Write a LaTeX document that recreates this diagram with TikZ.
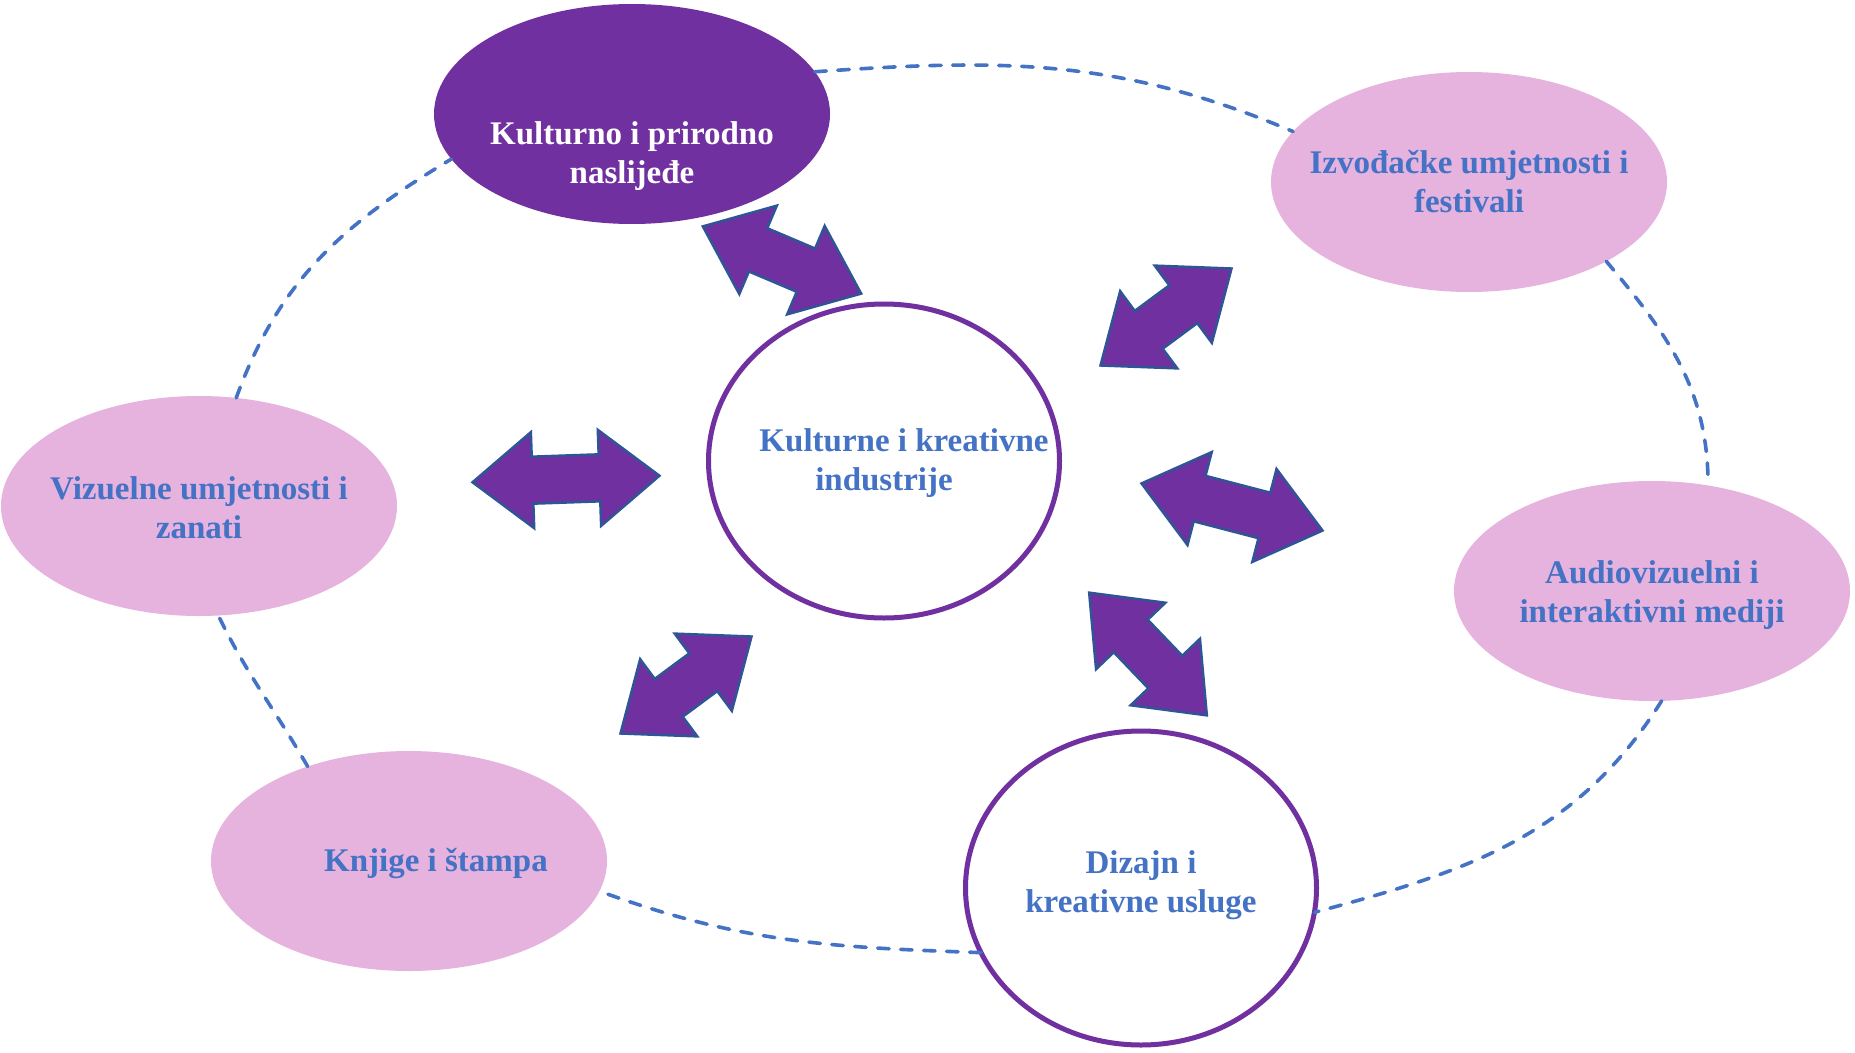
\documentclass[tikz,border=0pt]{standalone}
\usepackage{fontspec}
\setmainfont{Liberation Serif}
\usetikzlibrary{shapes.geometric}
\definecolor{pinkc}{HTML}{E6B2DE}
\definecolor{purplec}{HTML}{7030A0}
\definecolor{bluec}{HTML}{4472C4}
\definecolor{arrowline}{HTML}{2F5597}
\newcommand\fnt{\fontsize{33}{39}\selectfont\bfseries}
% text set in a box of zero size, so that the ellipse keeps its given size
\newcommand\movedtext[3]{\raisebox{#2}[0pt][0pt]{\makebox[0pt]{\hspace*{#1}\begin{tabular}{@{}c@{}}#3\end{tabular}}}}
\newcommand\dblarrow[3]{%
  \begin{scope}[shift={(#1)}, rotate=#2]
    \pgfmathsetmacro\hl{#3/2}
    \pgfmathsetmacro\hb{#3/2-60}
    \filldraw[bigarrow] (-\hl,0) -- (-\hb,48) -- (-\hb,23.5) -- (\hb,23.5) -- (\hb,48) -- (\hl,0)
      -- (\hb,-48) -- (\hb,-23.5) -- (-\hb,-23.5) -- (-\hb,-48) -- cycle;
  \end{scope}}
\tikzset{
  base/.style={ellipse, inner sep=0pt, outer sep=0pt, font=\fnt},
  pinknode/.style={base, fill=pinkc, text=bluec, minimum width=396pt, minimum height=220pt},
  darknode/.style={base, fill=purplec, text=white, minimum width=396pt, minimum height=220pt},
  ringnode/.style={base, draw=purplec, line width=5pt, fill=white, text=bluec, minimum width=351pt, minimum height=314pt},
  link/.style={draw=bluec, line width=3.6pt, dash pattern=on 11.5pt off 11.5pt, line cap=round},
  bigarrow/.style={fill=purplec, draw=arrowline, line width=2.5pt, line join=miter},
}
\begin{document}
\begin{tikzpicture}[x=1pt,y=-1pt]
\useasboundingbox (0,0) rectangle (1855,1052);
\fill[white] (0,0) rectangle (1855,1052);

\node[darknode] (kult) at (632,114) {\movedtext{0pt}{-48.8pt}{Kulturno i prirodno\\naslijeđe}};
\node[pinknode] (izv) at (1469,182) {\movedtext{0pt}{-9.3pt}{Izvođačke umjetnosti i\\festivali}};
\node[pinknode] (viz) at (199,506) {\movedtext{0pt}{-11.3pt}{Vizuelne umjetnosti i\\zanati}};
\node[pinknode] (knj) at (409,861) {\movedtext{54pt}{-8.5pt}{Knjige i štampa}};
\node[pinknode] (aud) at (1652,591) {\movedtext{0pt}{-10pt}{Audiovizuelni i\\interaktivni mediji}};
\node[ringnode] (diz) at (1141,888) {\movedtext{0pt}{-3.5pt}{Dizajn i\\kreativne usluge}};
\node[ringnode] (kki) at (884,461) {\movedtext{0pt}{-8.8pt}{\hspace*{40pt}Kulturne i kreativne\\industrije}};

\draw[link] (kult.13) to[out=4,in=157] (izv.164);
\draw[link] (izv.-30) to[out=-50,in=90] (aud.62);
\draw[link] (aud.-85) to[out=-122,in=15] (diz.-8);
\draw[link] (diz.-158) to[out=178,in=-20] (knj.-9);
\draw[link] (knj.137) to[out=120,in=-64] (viz.-80);
\draw[link] (viz.71) to[out=70,in=-149] (kult.-166);

\coordinate (aA) at (782,260);
\coordinate (aB) at (1166,317);
\coordinate (aC) at (566,479);
\coordinate (aD) at (1232,507);
\coordinate (aE) at (686,685);
\coordinate (aF) at (1148,654);
\dblarrow{aA}{-23}{172}
\dblarrow{aB}{36.5}{163}
\dblarrow{aC}{2}{187}
\dblarrow{aD}{-14.6}{187}
\dblarrow{aE}{36.5}{163}
\dblarrow{aF}{-46.2}{170}
\end{tikzpicture}
\end{document}
